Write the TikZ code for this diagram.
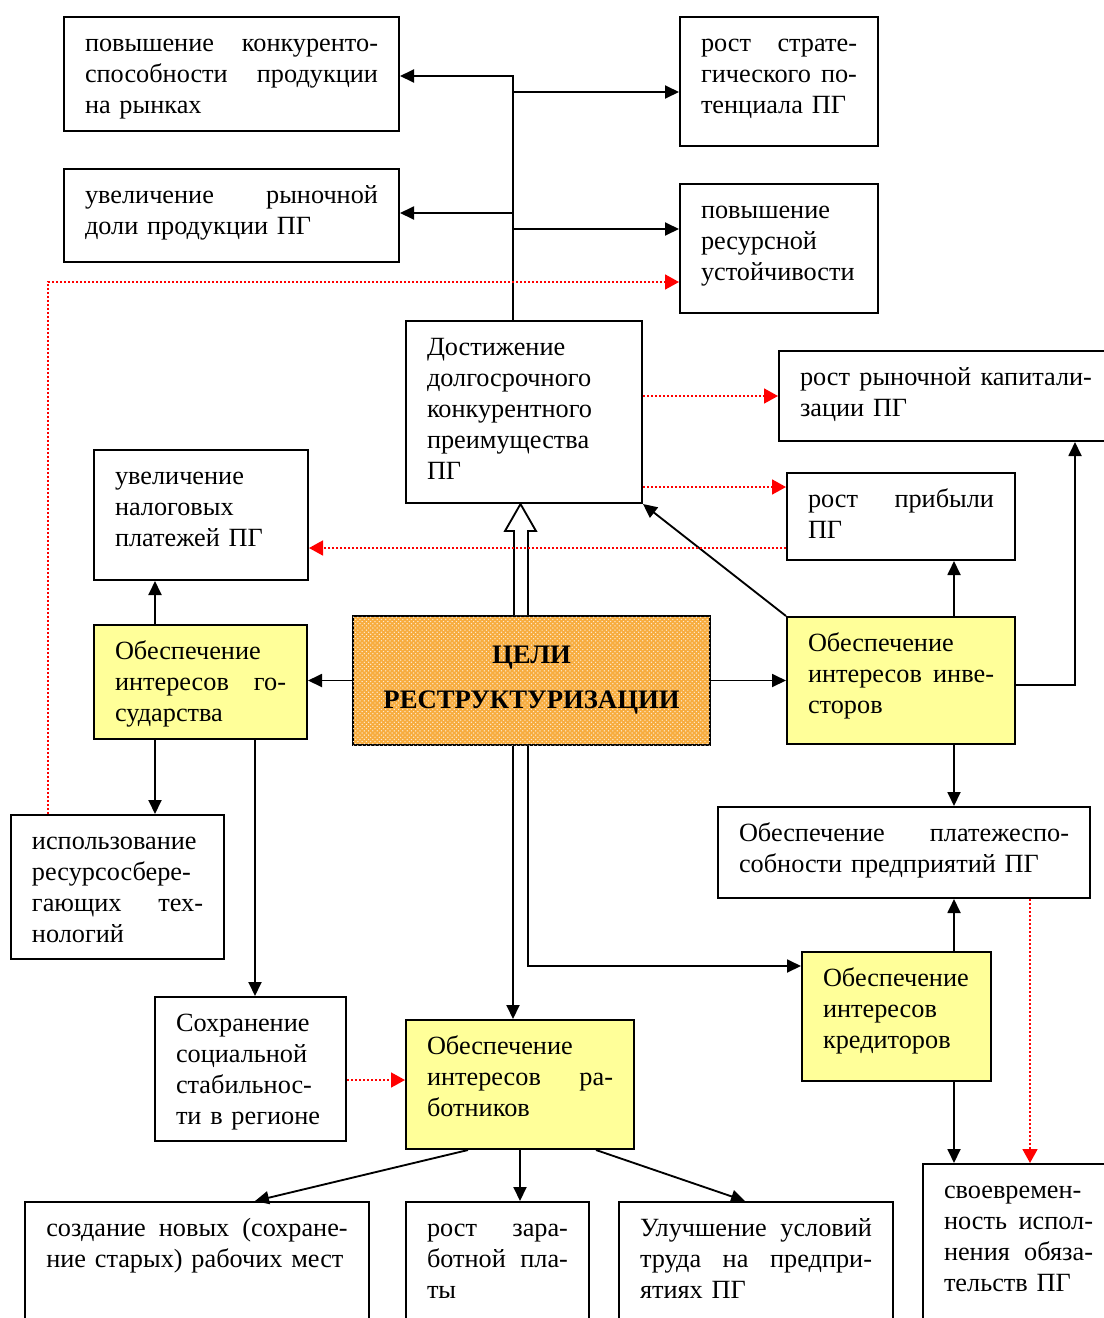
\documentclass[tikz,border=0pt]{standalone}
\usepackage{fontspec}
\setmainfont{Liberation Serif}
\usetikzlibrary{arrows.meta}
\usetikzlibrary{patterns}

\definecolor{lightyellow}{RGB}{255,255,153}
\definecolor{goalorange}{RGB}{247,172,62}

\tikzset{
	box/.style={draw, line width=1.4pt, inner xsep=14.7pt, inner ysep=0pt, align=left, anchor=north,
		text height=23.8pt, font=\fontsize{18.4}{21.7}\selectfont},
	ybox/.style={box, fill=lightyellow},
	arr/.style={line width=1.3pt, -{Triangle[length=9.8pt,width=9.1pt]}},
	rarr/.style={red, line width=1.2pt, dash pattern=on 1.4pt off 1.4pt,
		-{Triangle[length=9.8pt,width=10.5pt]}},
}

\begin{document}
\begin{tikzpicture}[x=0.7pt,y=-0.7pt]
				\clip (0,0) rectangle (1104,1318);
				
				\node[box, text width=205.1pt, text depth=56pt] (A) at (231.5,16) {повышение\hfill конкуренто-\\способности\hfill продукции\\на рынках};
				\node[box, text width=205.1pt, text depth=41.3pt] (B) at (231.5,168) {увеличение\hfill рыночной\\доли продукции ПГ};
				\node[box, text width=109.2pt, text depth=66.5pt] (C) at (779,16) {рост\hfill страте-\\гического\hfill по-\\тенциала ПГ};
				\node[box, text width=109.2pt, text depth=66.5pt] (D) at (779,183) {повышение\\ресурсной\\устойчивости};
				\node[box, text width=135.8pt, text depth=103.6pt] (E) at (524,320) {Достижение\\долгосрочного\\конкурентного\\преимущества\\ПГ};
				\node[box, text width=204.4pt, text depth=39.2pt] (F) at (946,350) {рост\hfill рыночной\hfill капитали-\\зации ПГ};
				\node[box, text width=130.2pt, text depth=37.1pt] (G) at (901,472) {рост\hfill прибыли\\ПГ};
				\node[box, text width=120.4pt, text depth=67.2pt] (H) at (201,449) {увеличение\\налоговых\\платежей ПГ};
				
				\node[ybox, text width=119.7pt, text depth=56pt] (I) at (200.5,624) {Обеспечение\\интересов\hfill го-\\сударства};
				\node[draw, line width=1.4pt, fill=goalorange, postaction={pattern=crosshatch dots, pattern color=white!80!goalorange},
					align=center, minimum width=249.9pt, minimum height=90.3pt,
					font=\fontsize{18.7}{31.5}\selectfont\bfseries] (J) at (531.5,680.5) {ЦЕЛИ\\РЕСТРУКТУРИЗАЦИИ};
				\node[ybox, text width=130.2pt, text depth=65.1pt] (K) at (901,616) {Обеспечение\\интересов\hfill инве-\\сторов};
				
				\node[box, text width=231pt, text depth=39.9pt] (L) at (904,806) {Обеспечение\hfill платежеспо-\\собности предприятий ПГ};
				\node[box, text width=119.7pt, text depth=77pt] (M) at (117.5,814) {использование\\ресурсосбере-\\гающих\hfill тех-\\нологий};
				\node[ybox, text width=102.9pt, text depth=66.5pt] (N) at (896.5,951) {Обеспечение\\интересов\\кредиторов};
				\node[box, text width=104.3pt, text depth=77pt] (O) at (250.5,996) {Сохранение\\социальной\\стабильнос-\\ти в регионе};
				\node[ybox, text width=130.2pt, text depth=66.5pt] (P) at (520,1019) {Обеспечение\\интересов\hfill ра-\\ботников};
				
				\node[box, text width=211pt, text depth=160pt] (Q) at (197,1201) {создание\hfill новых\hfill (сохране-\\ние старых) рабочих мест};
				\node[box, text width=98.7pt, text depth=160pt] (R) at (497.5,1201) {рост\hfill зара-\\ботной\hfill пла-\\ты};
				\node[box, text width=162.4pt, text depth=160pt] (S) at (756,1201) {Улучшение\hfill условий\\труда\hfill на\hfill предпри-\\ятиях ПГ};
				\node[box, text width=104.3pt, text depth=160pt] (T) at (1018.5,1163) {своевремен-\\ность\hfill испол-\\нения\hfill обяза-\\тельств ПГ};
				
				\draw[line width=1.3pt, fill=white] (J.north -| 514,0) -- (514,531) -- (505,531) -- (E.south -| 520.5,0)
					-- (536,531) -- (528,531) -- (J.north -| 528,0);
				
				\draw[arr] (E.north -| 513,0) |- (A.east |- 0,76);
				\draw[arr] (513,92) -- (C.west |- 0,92);
				\draw[arr] (513,213) -- (B.east |- 0,213);
				\draw[arr] (513,229) -- (D.west |- 0,229);
				
				\draw[arr] (J.west) -- (I.east |- J.west);
				\draw[arr] (J.east) -- (K.west |- J.east);
				\draw[arr] (I.north -| 155,0) -- (H.south -| 155,0);
				\draw[arr] (I.south -| 155,0) -- (M.north -| 155,0);
				\draw[arr] (I.south -| 255,0) -- (O.north -| 255,0);
				
				\draw[arr] (K.north west) -- (E.south east);
				\draw[arr] (K.north -| 954,0) -- (G.south -| 954,0);
				\draw[arr] (K.east |- 0,685) -| (F.south -| 1075,0);
				\draw[arr] (K.south -| 954,0) -- (L.north -| 954,0);
				\draw[arr] (N.north -| 954,0) -- (L.south -| 954,0);
				\draw[arr] (N.south -| 954,0) -- (T.north -| 954,0);
				
				\draw[arr] (J.south -| 513,0) -- (P.north -| 513,0);
				\draw[arr] (J.south -| 528,0) |- (N.west |- 0,966);
				\draw[arr] (P.south -| 468,0) -- (Q.north -| 255,0);
				\draw[arr] (P.south -| 520,0) -- (R.north -| 520,0);
				\draw[arr] (P.south -| 596,0) -- (S.north -| 745,0);
				
				\draw[rarr] (M.north -| 48,0) |- (D.west |- 0,282);
				\draw[rarr] (E.east |- 0,396) -- (F.west |- 0,396);
				\draw[rarr] (E.east |- 0,487) -- (G.west |- 0,487);
				\draw[rarr] (G.west |- 0,548) -- (H.east |- 0,548);
				\draw[rarr] (L.south -| 1030,0) -- (T.north -| 1030,0);
				\draw[rarr] (O.east |- 0,1080) -- (P.west |- 0,1080);
			\end{tikzpicture}
\end{document}
